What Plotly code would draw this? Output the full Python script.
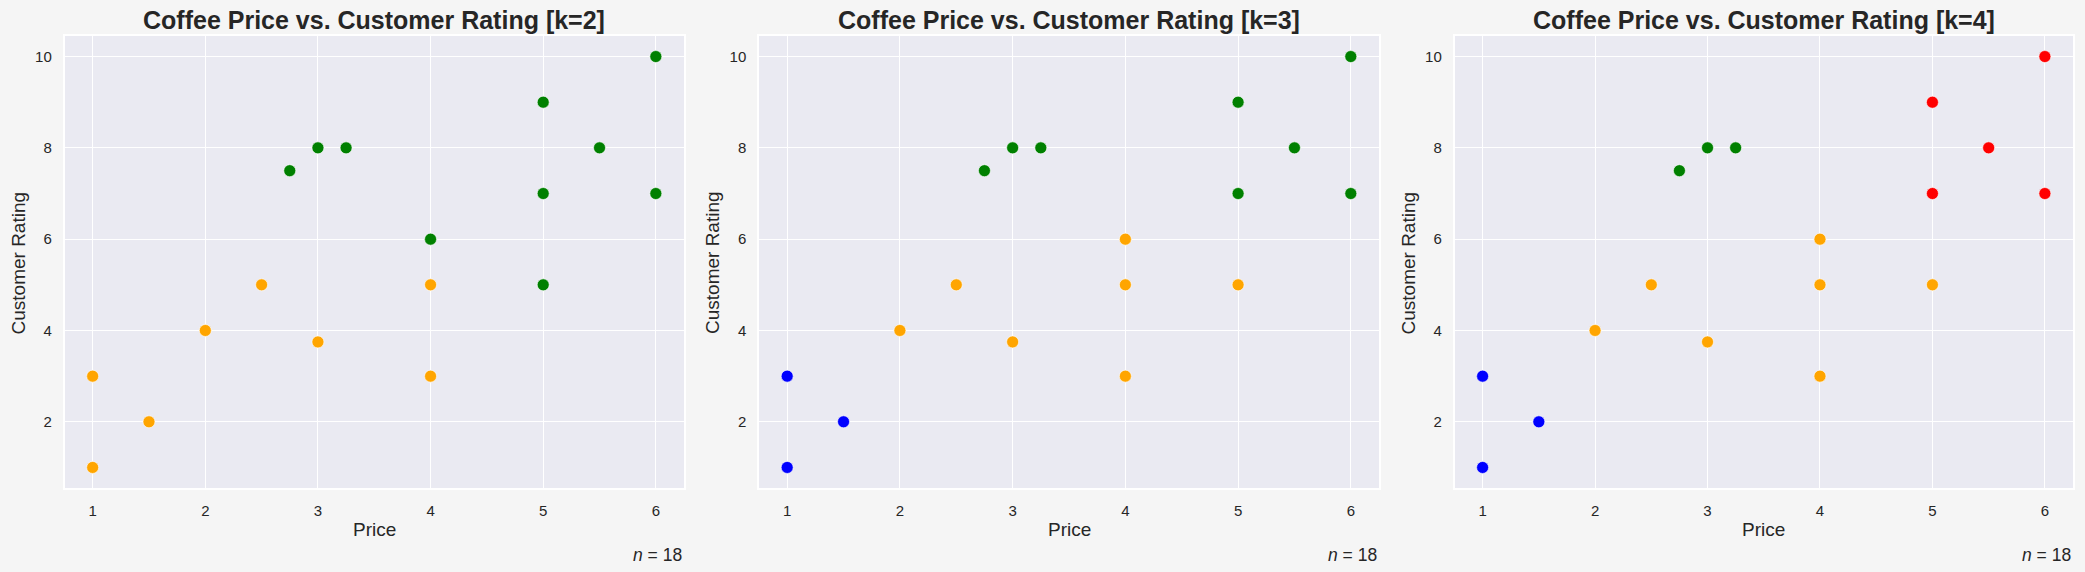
import plotly.graph_objects as go

# price / rating pairs (18 shops)
price = [1, 1, 1.5, 2, 2.5, 3, 4, 4, 2.75, 3, 3.25, 4, 5, 5, 5, 5.5, 6, 6]
rating = [1, 3, 2, 4, 5, 3.75, 3, 5, 7.5, 8, 8, 6, 5, 7, 9, 8, 7, 10]

# cluster labels per k
labels_k2 = [0, 0, 0, 0, 0, 0, 0, 0, 1, 1, 1, 1, 1, 1, 1, 1, 1, 1]
labels_k3 = [2, 2, 2, 0, 0, 0, 0, 0, 1, 1, 1, 0, 0, 1, 1, 1, 1, 1]
labels_k4 = [2, 2, 2, 0, 0, 0, 0, 0, 1, 1, 1, 0, 0, 3, 3, 3, 3, 3]

cluster_colors = ["#FFA500", "#008000", "#0000FF", "#FF0000"]
ks = [2, 3, 4]
all_labels = [labels_k2, labels_k3, labels_k4]

W, H = 2085, 572
panels = [(64.5, 684), (759, 1379), (1454.5, 2073)]
top_px, bot_px = 36, 488

TXT = "#262626"
FONT = "Liberation Sans, Arial, sans-serif"

fig = go.Figure()
annotations = []
for i, (k, labs) in enumerate(zip(ks, all_labels)):
    n = i + 1
    xa = "xaxis" if n == 1 else f"xaxis{n}"
    ya = "yaxis" if n == 1 else f"yaxis{n}"
    xref = "x" if n == 1 else f"x{n}"
    yref = "y" if n == 1 else f"y{n}"

    fig.add_trace(go.Scatter(
        x=price, y=rating, mode="markers",
        marker=dict(size=12, color=[cluster_colors[c] for c in labs],
                    line=dict(color="white", width=0.6)),
        xaxis=xref, yaxis=yref, showlegend=False,
    ))

    left, right = panels[i]
    fig.layout[xa] = dict(
        domain=[left / W, right / W], range=[0.75, 6.25],
        tickvals=[1, 2, 3, 4, 5, 6], showgrid=True, gridcolor="white", gridwidth=1.3,
        zeroline=False, showline=True, linecolor="white", linewidth=1.5, mirror=True,
        ticks="outside", ticklen=8, tickcolor="rgba(0,0,0,0)",
        tickfont=dict(size=15, color=TXT, family=FONT), anchor=yref,
    )
    fig.layout[ya] = dict(
        domain=[1 - bot_px / H, 1 - top_px / H], range=[0.55, 10.45],
        tickvals=[2, 4, 6, 8, 10], showgrid=True, gridcolor="white", gridwidth=1.3,
        zeroline=False, showline=True, linecolor="white", linewidth=1.5, mirror=True,
        ticks="outside", ticklen=8, tickcolor="rgba(0,0,0,0)",
        tickfont=dict(size=15, color=TXT, family=FONT), anchor=xref,
    )

    cx = (left + right) / 2 / W
    annotations += [
        dict(text=f"<b>Coffee Price vs. Customer Rating [k={k}]</b>", x=cx, y=1 - 20 / H,
             xref="paper", yref="paper", showarrow=False, xanchor="center", yanchor="middle",
             font=dict(size=25, color=TXT, family=FONT)),
        dict(text="Price", x=cx, y=1 - 529 / H, xref="paper", yref="paper", showarrow=False,
             xanchor="center", yanchor="middle", font=dict(size=19, color=TXT, family=FONT)),
        dict(text="Customer Rating", x=(left - 47) / W, y=1 - 263 / H, xref="paper", yref="paper",
             showarrow=False, textangle=-90, xanchor="center", yanchor="middle",
             font=dict(size=19, color=TXT, family=FONT)),
        dict(text="<i>n</i> = 18", x=right / W, y=1 - 555 / H, xref="paper", yref="paper",
             showarrow=False, xanchor="right", yanchor="middle",
             font=dict(size=17.5, color=TXT, family=FONT)),
    ]

fig.update_layout(
    width=W, height=H, margin=dict(l=0, r=0, t=0, b=0),
    paper_bgcolor="#F5F5F5", plot_bgcolor="#EAEAF2",
    annotations=annotations,
)

# page body margin would shift the figure off the window
fig.write_html("out.html", config={"displayModeBar": False},
               post_script="document.body.style.margin='0px';")
